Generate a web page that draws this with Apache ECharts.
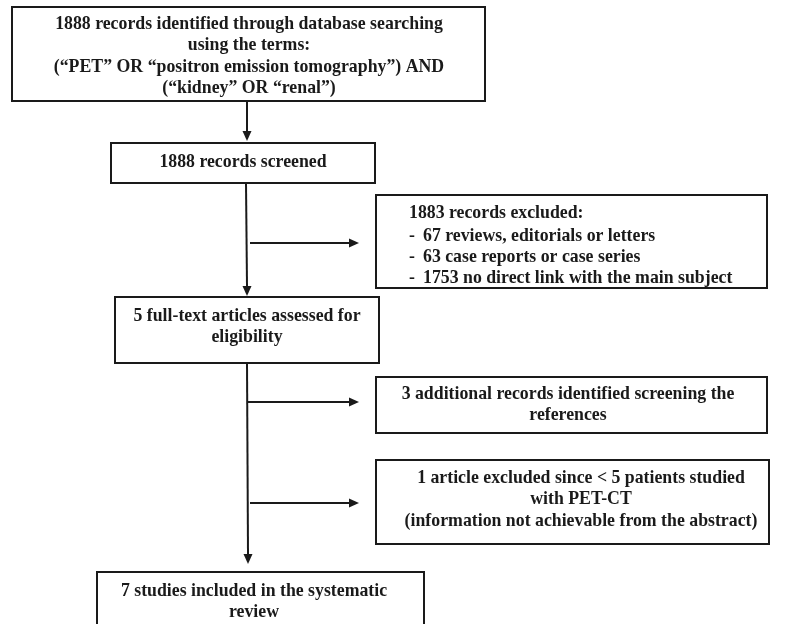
<!DOCTYPE html>
<html><head><meta charset="utf-8">
<script src="https://cdn.jsdelivr.net/npm/echarts@6/dist/echarts.min.js"></script>
<style>html,body{margin:0;padding:0;background:#fff}#c{width:785px;height:624px}</style>
</head><body><div id="c"></div>
<script>
// ---- content (text only) ----
const identifiedText = ['1888 records identified through database searching','using the terms:','(\u201CPET\u201D OR \u201Cpositron emission tomography\u201D) AND','(\u201Ckidney\u201D OR \u201Crenal\u201D)'];
const screenedText = ['1888 records screened'];
const excludedHeading = ['1883 records excluded:'];
const excludedItems = ['67 reviews, editorials or letters','63 case reports or case series','1753 no direct link with the main subject'];
const fullTextText = ['5 full-text articles assessed for','eligibility'];
const additionalText = ['3 additional records identified screening the','references'];
const articleExcludedText = ['1 article excluded since < 5 patients studied','with PET-CT','(information not achievable from the abstract)'];
const includedText = ['7 studies included in the systematic','review'];

// ---- layout (positions/sizes) ----
const boxLayout = [
  {rect:[12,7,473,94], cx:249, y0:24, lines:identifiedText},
  {rect:[111,143,264,40], cx:243, y0:162, lines:screenedText},
  {rect:[115,297,264,66], cx:247, y0:316, lines:fullTextText},
  {rect:[376,377,391,56], cx:568, y0:394, lines:additionalText},
  {rect:[376,460,393,84], cx:581, y0:478, lines:articleExcludedText},
  {rect:[97,572,327,70], cx:254, y0:591, lines:includedText}
];
const excludedBox = [376,195,391,93];
const lineH = 21.5;
const font = 'bold 17.8px "Liberation Serif", "Times New Roman", serif';
const ink = '#1a1a1a';

const arrowsV = [[247,101,247,141],[246,183,247,296],[247,363,248,564]];
const arrowsH = [[250,243,359],[247,402,359],[250,503,359]];

const els = [];
function rectEl(r){
  els.push({type:'rect', shape:{x:r[0],y:r[1],width:r[2],height:r[3]}, style:{fill:'#fff',stroke:ink,lineWidth:2}});
}
function textEl(t,x,y,align){
  els.push({type:'text', style:{text:t,x:x,y:y,font:font,fill:ink,textAlign:align||'center',textVerticalAlign:'middle'}});
}
boxLayout.forEach(b=>{
  rectEl(b.rect);
  b.lines.forEach((t,i)=>textEl(t,b.cx,b.y0+i*lineH));
});
rectEl(excludedBox);
textEl(excludedHeading[0],409,213,'left');
excludedItems.forEach((t,i)=>{
  textEl('-',409,236+i*21,'left');
  textEl(t,423,236+i*21,'left');
});
const ah=10, aw=4.5;
arrowsV.forEach(a=>{
  els.push({type:'line', shape:{x1:a[0],y1:a[1],x2:a[2],y2:a[3]-ah}, style:{stroke:ink,lineWidth:2}});
  els.push({type:'polygon', shape:{points:[[a[2]-aw,a[3]-ah],[a[2]+aw,a[3]-ah],[a[2],a[3]]]}, style:{fill:ink}});
});
arrowsH.forEach(a=>{
  els.push({type:'line', shape:{x1:a[0],y1:a[1],x2:a[2]-ah,y2:a[1]}, style:{stroke:ink,lineWidth:2}});
  els.push({type:'polygon', shape:{points:[[a[2]-ah,a[1]-aw],[a[2]-ah,a[1]+aw],[a[2],a[1]]]}, style:{fill:ink}});
});

const chart = echarts.init(document.getElementById('c'), null, {renderer:'canvas'});
chart.setOption({animation:false, backgroundColor:'#fff', graphic:{elements:els}});
</script>
</body></html>
